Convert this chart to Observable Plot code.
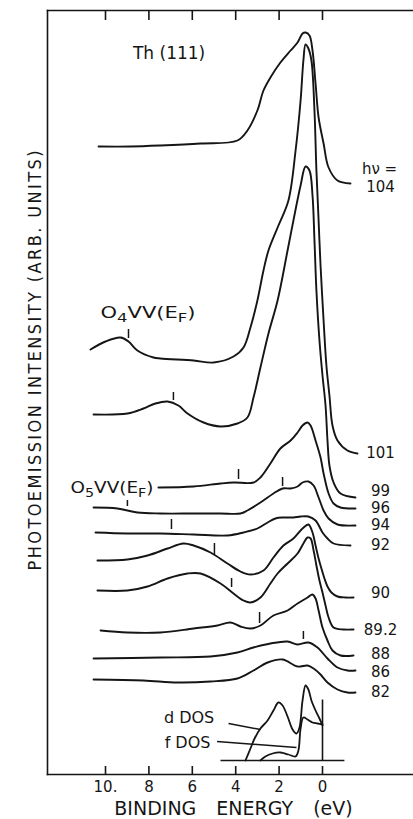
<!DOCTYPE html>
<html><head><meta charset="utf-8">
<script src="https://cdn.jsdelivr.net/npm/d3@7"></script>
<script src="https://cdn.jsdelivr.net/npm/@observablehq/plot@0.6"></script>
<style>
html,body{margin:0;padding:0;background:#fff}
svg{display:block}
</style></head>
<body><div id="chart"></div>
<script>
// Binding energy (eV) vs photoemission intensity (arb. units, offset spectra)
const hv104 = [[10.32,628],[8.85,628],[7.47,629],[5.62,631],[3.92,634],[3.46,644],[3.0,664],[2.72,684],[2.40,697],[1.94,712],[1.47,724],[1.15,732],[0.92,741],[0.78,742],[0.60,739],[0.46,724],[0.32,691],[0.18,657],[-0.05,631],[-0.28,607],[-0.69,594],[-1.29,591]];
const hv101 = [[10.69,425],[10.0,433],[9.31,437],[8.94,433],[8.53,424],[7.79,417],[7.47,416],[5.94,414],[5.02,412],[4.10,418],[3.64,427],[3.32,447],[3.0,474],[2.72,504],[2.49,524],[2.03,549],[1.57,574],[1.24,624],[1.01,674],[0.88,714],[0.78,730],[0.65,726],[0.51,714],[0.37,664],[0.28,604],[0.18,554],[0.09,509],[-0.05,454],[-0.18,409],[-0.32,379],[-0.46,349],[-0.69,334],[-1.15,324],[-1.61,321]];
const hv99 = [[10.55,360],[8.99,361],[8.25,366],[7.70,371],[7.14,373],[6.64,369],[6.22,361],[5.48,352],[4.70,348],[3.92,351],[3.46,357],[3.18,377],[2.86,407],[2.49,441],[2.07,474],[1.61,524],[1.34,554],[1.01,589],[0.78,608],[0.60,604],[0.46,579],[0.37,534],[0.28,484],[0.14,434],[0,399],[-0.14,369],[-0.23,334],[-0.32,309],[-0.51,292],[-0.83,281],[-1.52,277]];
const hv96 = [[7.56,287],[5.94,288],[4.70,291],[4.10,292],[3.18,292],[2.86,297],[2.40,311],[1.94,326],[1.47,334],[1.15,342],[0.92,349],[0.69,352],[0.55,349],[0.32,334],[0.09,317],[-0.05,301],[-0.28,281],[-0.51,271],[-0.83,267],[-1.52,266]];
const hv94 = [[10.55,267],[9.45,266],[8.53,262],[7.47,261],[5.94,261],[4.70,261],[3.78,261],[3.46,264],[2.86,272],[2.26,281],[1.84,286],[1.47,286],[1.15,288],[0.92,292],[0.65,293],[0.41,289],[0.18,277],[-0.05,264],[-0.28,256],[-0.69,250],[-1.52,249]];
const hv92 = [[10.46,242],[8.99,241],[7.47,241],[5.94,240],[4.38,239],[3.64,242],[3.0,246],[2.53,252],[2.17,256],[1.80,257],[1.34,257],[1.01,258],[0.65,258],[0.32,254],[0,242],[-0.23,236],[-0.51,231],[-1.29,229]];
const hv90 = [[10.37,214],[8.99,215],[8.06,219],[7.14,226],[6.41,231],[5.94,229],[5.16,222],[4.38,211],[3.78,203],[3.32,200],[2.72,204],[2.26,217],[1.80,229],[1.34,236],[0.92,246],[0.65,250],[0.46,242],[0.32,229],[0.18,216],[0.05,206],[-0.09,196],[-0.23,188],[-0.41,182],[-0.69,178],[-1.06,177],[-1.43,177]];
const hv892 = [[10.37,184],[8.99,184],[8.06,188],[7.14,196],[6.22,201],[5.62,201],[4.70,191],[4.10,181],[3.64,174],[3.32,172],[2.86,177],[2.40,191],[2.07,201],[1.61,211],[1.15,221],[0.88,231],[0.69,237],[0.55,236],[0.41,224],[0.28,209],[0.14,194],[0,182],[-0.14,169],[-0.28,157],[-0.51,147],[-0.97,145],[-1.43,145]];
const hv88 = [[10.23,144],[8.99,142],[7.47,142],[5.94,146],[4.84,149],[4.24,152],[3.78,148],[3.32,146],[2.86,149],[2.26,159],[1.61,164],[1.15,171],[0.69,177],[0.46,180],[0.32,176],[0.18,164],[0,147],[-0.23,134],[-0.46,124],[-0.83,119],[-1.43,119]];
const hv86 = [[10.55,116],[7.47,117],[5.16,118],[3.92,122],[3.18,127],[2.40,131],[1.61,133],[1.15,130],[0.65,132],[0.23,127],[-0.23,116],[-0.69,107],[-1.15,104],[-1.52,104]];
const hv82 = [[10.55,95],[8.25,94],[6.68,92],[5.16,93],[3.92,96],[3.18,104],[2.53,112],[1.84,115],[1.15,108],[0.69,109],[0.41,106],[0.09,100],[-0.23,92],[-0.69,85],[-1.15,82],[-1.52,82]];
const dDos = [[3.55,14],[3.32,26],[3.13,36],[2.86,46],[2.53,54],[2.26,64],[2.03,72],[1.84,69],[1.61,58],[1.38,45],[1.20,41],[1.06,47],[0.92,74],[0.78,89],[0.65,85],[0.51,74],[0.32,64],[0.14,56],[0,49]];
const fDos = [[2.86,14],[2.63,18],[2.30,21],[1.94,22],[1.57,20],[1.24,18],[1.11,24],[1.01,46],[0.88,57],[0.69,55],[0.46,52],[0.23,51],[0,50]];

const photonEnergies = ["104","101","99","96","94","92","90","89.2","88","86","82"];
const spectra = [hv104,hv101,hv99,hv96,hv94,hv92,hv90,hv892,hv88,hv86,hv82];

// Auger O4VV / O5VV position markers (x in eV, y1..y2 in arb. units)
const augerMarks = [
  {x:8.94,y1:436,y2:445},{x:6.87,y1:374,y2:382},{x:3.87,y1:295,y2:305},
  {x:8.99,y1:268,y2:274},{x:1.84,y1:288,y2:297},{x:6.96,y1:245,y2:255},
  {x:4.98,y1:220,y2:231},{x:4.19,y1:187,y2:196},{x:2.90,y1:151,y2:162},
  {x:0.88,y1:135,y2:143}
];
const dosAxis = [{x1:4.70,y1:14,x2:-1.01,y2:14},{x1:0,y1:14,x2:0,y2:75}];
const leaders = [{x1:4.33,y1:51,x2:2.86,y2:45},{x1:4.86,y1:33,x2:1.20,y2:27}];
const notes = [
  {text:"Th (111)", x:7.07, y:721, size:17},
  {text:"O4VV(EF)", x:8.04, y:461, size:15},
  {text:"O5VV(EF)", x:9.70, y:286, size:15},
  {text:"d DOS", x:6.15, y:57, size:16},
  {text:"f DOS", x:6.22, y:32, size:16}
];
const xTicks = [10,8,6,4,2,0];
const xTickLabels = ["10.","8","6","4","2","0"];
const xTitle = "BINDING ENERGY (eV)";
const yTitle = "PHOTOEMISSION INTENSITY (ARB. UNITS)";

// label placement tweaks (layout only, arb. units relative to curve end)
const labelShift = {"104": -4, "99": 6, "90": 4, "89.2": -1, "88": 1, "86": -2};

const rows = spectra.flatMap((s,i) => s.map(([x,y]) => ({hv: photonEnergies[i], x, y})));
const ends = spectra.map((s,i) => ({hv: photonEnergies[i], y: s[s.length-1][1]}));
const dosRows = [...dDos.map(([x,y])=>({k:"d",x,y})), ...fDos.map(([x,y])=>({k:"f",x,y}))];

const ink = "#151515";
const chart = Plot.plot({
  width: 413, height: 819,
  marginLeft: 47, marginRight: 0, marginTop: 10, marginBottom: 45,
  style: {fontFamily: "'DejaVu Sans', sans-serif", background: "#fff", color: ink},
  x: {domain: [10, 0], range: [105, 322], axis: null},
  y: {domain: [0, 764], range: [774, 10], axis: null},
  marks: [
    Plot.frame({anchor: "left", stroke: ink, strokeWidth: 1.6}),
    Plot.frame({anchor: "top", stroke: ink, strokeWidth: 1.6}),
    Plot.frame({anchor: "bottom", stroke: ink, strokeWidth: 1.6}),
    Plot.ruleX(xTicks, {x: d => d, y1: 0, y2: 8, stroke: ink, strokeWidth: 1.6}),
    Plot.ruleX(xTicks, {x: d => d, y1: 754, y2: 764, stroke: ink, strokeWidth: 1.6}),
    Plot.text(xTicks, {x: d => d, y: 0, text: (d,i) => xTickLabels[i], dy: 13, fontSize: 15, fill: ink, lineAnchor: "middle"}),
    Plot.text([xTitle], {frameAnchor: "bottom", dx: 3, dy: 34, fontSize: 19, fill: ink, text: d => d, lineAnchor: "middle", textAnchor: "middle"}),
    Plot.text([yTitle], {frameAnchor: "left", dx: -12, dy: -32, rotate: -90, fontSize: 18, fill: ink, text: d => d,
      lineAnchor: "middle", textAnchor: "middle",
      fontFamily: "'Liberation Sans Narrow','DejaVu Sans Condensed','Liberation Sans',sans-serif"}),
    Plot.line(rows, {x: "x", y: "y", z: "hv", curve: "catmull-rom", stroke: ink, strokeWidth: 1.9}),
    Plot.line(dosRows, {x: "x", y: "y", z: "k", curve: "catmull-rom", stroke: ink, strokeWidth: 1.8}),
    Plot.link(dosAxis, {x1: "x1", y1: "y1", x2: "x2", y2: "y2", stroke: ink, strokeWidth: 1.6}),
    Plot.link(leaders, {x1: "x1", y1: "y1", x2: "x2", y2: "y2", stroke: ink, strokeWidth: 1.5}),
    Plot.ruleX(augerMarks, {x: "x", y1: "y1", y2: "y2", stroke: ink, strokeWidth: 1.5}),
    Plot.text(ends, {y: d => d.y + (labelShift[d.hv] ?? 0), text: "hv", frameAnchor: "right", dx: -33, textAnchor: "middle", lineAnchor: "middle", fontSize: 15, fill: ink}),
    Plot.text(ends.slice(0,1), {y: d => d.y + (labelShift[d.hv] ?? 0), text: () => "hν =", frameAnchor: "right", dx: -34, dy: -18, textAnchor: "middle", lineAnchor: "middle", fontSize: 15, fill: ink}),
    Plot.text(notes, {x: "x", y: "y", text: "text", fontSize: "size", fill: ink, textAnchor: "middle", lineAnchor: "middle"})
  ]
});
document.getElementById("chart").appendChild(chart);

// typographic touches: subscripts, spacing
const sel = d3.select(chart);
function withText(str, fn){ sel.selectAll("text").filter(function(){return this.textContent === str;}).each(function(){ fn(d3.select(this)); }); }
function subscript(t, parts){
  t.text(null);
  let down = false;
  for (const [s, sub] of parts){
    const ts = t.append("tspan").text(s);
    if (sub){ ts.attr("font-size","78%"); if(!down){ ts.attr("dy", 4); down = true; } }
    else if (down){ ts.attr("dy", -4); down = false; }
  }
}
withText("O4VV(EF)", t => { subscript(t, [["O",0],["4",1],["VV(E",0],["F",1],[")",0]]); t.attr("textLength", 95).attr("lengthAdjust","spacingAndGlyphs"); });
withText("O5VV(EF)", t => { subscript(t, [["O",0],["5",1],["VV(E",0],["F",1],[")",0]]); t.attr("textLength", 83).attr("lengthAdjust","spacingAndGlyphs"); });
withText(xTitle, t => t.style("word-spacing", "14px"));
withText(yTitle, t => {
  const L = 420;
  t.attr("text-anchor", "start").attr("x", -L/2).attr("textLength", L).attr("lengthAdjust", "spacing");
});
</script>
</body></html>
